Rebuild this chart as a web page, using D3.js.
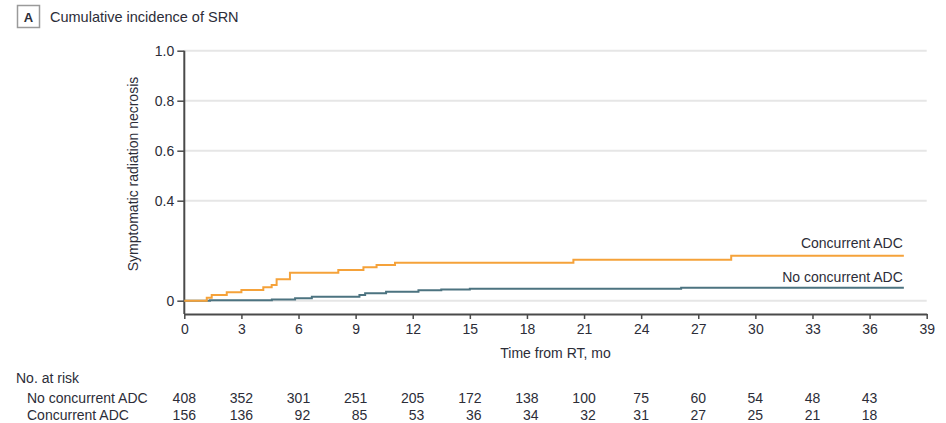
<!DOCTYPE html>
<html>
<head>
<meta charset="utf-8">
<script src="https://cdn.jsdelivr.net/npm/d3@7"></script>
<style>
  body { margin: 0; background: #fff; }
  svg text { font-family: "Liberation Sans", Arial, sans-serif; fill: #2c2d38; }
</style>
</head>
<body>
<svg id="chart" width="946" height="423"></svg>
<script>
// step curves: [month, cumulative incidence]
const concurrent = [
    [0, 0], [1.18, 0.012], [1.44, 0.023], [2.23, 0.034], [3.0, 0.043],
    [4.15, 0.054], [4.59, 0.063], [4.85, 0.086], [5.55, 0.112],
    [8.09, 0.123], [9.41, 0.134], [10.1, 0.143], [11.07, 0.152],
    [20.44, 0.164], [28.73, 0.180], [37.8, 0.180]
]
const noConcurrent = [
    [0, 0], [1.35, 0.002], [4.6, 0.005], [5.82, 0.010], [6.7, 0.016],
    [9.2, 0.023], [9.5, 0.030], [10.6, 0.036], [12.3, 0.042],
    [13.5, 0.045], [15.0, 0.048], [26.1, 0.052], [37.8, 0.052]
]
const yTicks = [0, 0.4, 0.6, 0.8, 1.0]
const xTicks = d3.range(0, 40, 3)
const riskMonths = d3.range(0, 37, 3)
const riskNo = [408, 352, 301, 251, 205, 172, 138, 100, 75, 60, 54, 48, 43]
const riskConc = [156, 136, 92, 85, 53, 36, 34, 32, 31, 27, 25, 21, 18]

const orange = "#f5a23a"
const teal = "#4c7380"
const axisColor = "#4a4a4a"
const textColor = "#2c2d38"

const svg = d3.select("#chart")
const x = d3.scaleLinear().domain([0, 39]).range([184.3, 926.7])
const y = d3.scaleLinear().domain([0, 1]).range([300.7, 50.7])
const axisY = 314

// panel title
svg.append("rect")
    .attr("x", 17.5).attr("y", 5.5).attr("width", 22).attr("height", 22)
    .attr("fill", "none").attr("stroke", "#9a9a9a").attr("stroke-width", 1.5)
svg.append("text")
    .attr("x", 28.5).attr("y", 17).attr("text-anchor", "middle")
    .attr("dominant-baseline", "central")
    .attr("font-size", 13).attr("font-weight", "bold")
    .text("A")
svg.append("text")
    .attr("x", 50).attr("y", 17).attr("dominant-baseline", "central")
    .attr("font-size", 14.5)
    .text("Cumulative incidence of SRN")

// grid
svg.append("g").selectAll("line")
    .data(yTicks)
    .enter()
    .append("line")
    .attr("x1", x(0)).attr("x2", x(39))
    .attr("y1", d => y(d)).attr("y2", d => y(d))
    .attr("stroke", "#e6e6e6").attr("stroke-width", 2)

// y axis
const yAxis = svg.append("g")
    .attr("transform", `translate(${x(0)},0)`)
    .call(d3.axisLeft(y).tickValues(yTicks).tickSize(7).tickPadding(3)
        .tickFormat(d => d === 0 ? "0" : d3.format(".1f")(d)))
yAxis.select(".domain").remove()
yAxis.selectAll(".tick line").attr("stroke", axisColor).attr("stroke-width", 1.5)
yAxis.selectAll(".tick text").attr("font-size", 14).attr("fill", textColor)
    .style("font-family", "'Liberation Sans', Arial, sans-serif")
svg.append("line")
    .attr("x1", x(0)).attr("x2", x(0))
    .attr("y1", y(1)).attr("y2", axisY)
    .attr("stroke", axisColor).attr("stroke-width", 2)

// x axis
const xAxis = svg.append("g")
    .attr("transform", `translate(0,${axisY})`)
    .call(d3.axisBottom(x).tickValues(xTicks).tickSize(5).tickPadding(5).tickSizeOuter(0))
xAxis.select(".domain").attr("stroke", axisColor).attr("stroke-width", 2)
xAxis.selectAll(".tick line").attr("stroke", axisColor).attr("stroke-width", 1.5)
xAxis.selectAll(".tick text").attr("font-size", 14).attr("fill", textColor)
    .style("font-family", "'Liberation Sans', Arial, sans-serif")

svg.append("text")
    .attr("x", (x(0) + x(39)) / 2).attr("y", 353)
    .attr("text-anchor", "middle").attr("dominant-baseline", "central")
    .attr("font-size", 14)
    .text("Time from RT, mo")

svg.append("text")
    .attr("transform", "translate(133,174) rotate(-90)")
    .attr("text-anchor", "middle").attr("dominant-baseline", "central")
    .attr("font-size", 14)
    .text("Symptomatic radiation necrosis")

// curves
const line = d3.line()
    .x(d => x(d[0]))
    .y(d => y(d[1]))
    .curve(d3.curveStepAfter)

svg.append("path")
    .datum(noConcurrent)
    .attr("d", line)
    .attr("fill", "none").attr("stroke", teal).attr("stroke-width", 2)
svg.append("path")
    .datum(concurrent)
    .attr("d", line)
    .attr("fill", "none").attr("stroke", orange).attr("stroke-width", 2)

// curve labels
svg.append("text")
    .attr("x", x(37.8) - 1).attr("y", 243)
    .attr("text-anchor", "end").attr("dominant-baseline", "central")
    .attr("font-size", 14)
    .text("Concurrent ADC")
svg.append("text")
    .attr("x", x(37.8) - 1).attr("y", 276.5)
    .attr("text-anchor", "end").attr("dominant-baseline", "central")
    .attr("font-size", 14)
    .text("No concurrent ADC")

// number at risk
svg.append("text")
    .attr("x", 16).attr("y", 378).attr("dominant-baseline", "central")
    .attr("font-size", 14)
    .text("No. at risk")
svg.append("text")
    .attr("x", 27).attr("y", 398).attr("dominant-baseline", "central")
    .attr("font-size", 14)
    .text("No concurrent ADC")
svg.append("text")
    .attr("x", 27).attr("y", 415).attr("dominant-baseline", "central")
    .attr("font-size", 14)
    .text("Concurrent ADC")

const topRow = svg.append("g")
topRow.selectAll("text")
    .data(riskNo)
    .enter()
    .append("text")
    .attr("x", (d, i) => x(riskMonths[i]))
    .attr("y", 398)
    .attr("text-anchor", "middle").attr("dominant-baseline", "central")
    .attr("font-size", 14)
    .text(d => d)

// bottom row right-aligned with the top row numbers
const rightEdges = []
topRow.selectAll("text").each(function (d, i) {
    rightEdges[i] = x(riskMonths[i]) + this.getComputedTextLength() / 2
})
svg.append("g").selectAll("text")
    .data(riskConc)
    .enter()
    .append("text")
    .attr("x", (d, i) => rightEdges[i])
    .attr("y", 415)
    .attr("text-anchor", "end").attr("dominant-baseline", "central")
    .attr("font-size", 14)
    .text(d => d)
</script>
</body>
</html>
